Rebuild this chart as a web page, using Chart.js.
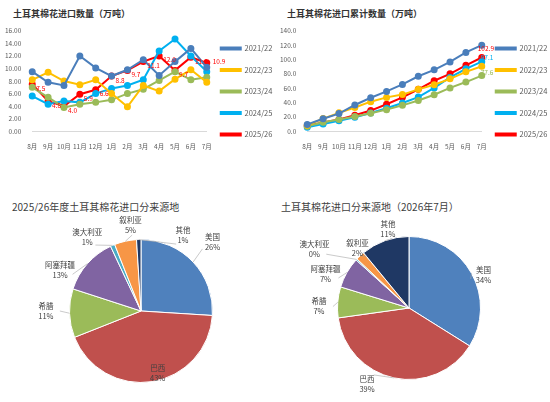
<!DOCTYPE html>
<html><head><meta charset="utf-8">
<script src="https://cdn.jsdelivr.net/npm/chart.js@4"></script>
<style>
body{margin:0;background:#fff;width:550px;height:402px;position:relative;overflow:hidden;font-family:"Noto Sans CJK SC",sans-serif}
.c{position:absolute}
.t{position:absolute;font-size:9px;color:#333;white-space:nowrap}
</style></head><body>
<div class="t" style="left:13px;top:7px;font-weight:bold">土耳其棉花进口数量（万吨）</div>
<div class="t" style="left:287px;top:7px;font-weight:bold">土耳其棉花进口累计数量（万吨）</div>
<div class="t" style="left:12px;top:199px;font-size:10px;color:#404040">2025/26年度土耳其棉花进口分来源地</div>
<div class="t" style="left:281px;top:199px;font-size:10px;color:#404040">土耳其棉花进口分来源地（2026年7月）</div>
<div class="c" style="left:0;top:24px;width:275px;height:131px"><canvas id="c1"></canvas></div>
<div class="c" style="left:275px;top:24px;width:275px;height:131px"><canvas id="c2"></canvas></div>
<div class="c" style="left:0;top:195px;width:275px;height:207px"><canvas id="c3"></canvas></div>
<div class="c" style="left:275px;top:195px;width:275px;height:207px"><canvas id="c4"></canvas></div>
<script>
const months=["8月","9月","10月","11月","12月","1月","2月","3月","4月","5月","6月","7月"];
const seasons=["2021/22","2022/23","2023/24","2024/25","2025/26"];
const colors=["#4a7ebb","#ffc000","#9bbb59","#00b0f0","#ff0000"];
const monthly=[
[9.5,7.8,7.3,12.0,10.1,8.8,9.8,11.4,8.9,11.1,13.2,10.2],
[8.2,9.4,8.0,7.4,8.2,6.0,3.9,7.3,6.4,8.3,9.8,7.8],
[7.0,5.4,3.8,4.3,4.6,5.0,6.0,6.7,8.1,9.5,8.2,8.6],
[5.6,4.3,4.8,4.6,6.0,6.8,7.3,8.2,12.8,14.7,12.0,9.5],
[7.5,4.8,4.0,5.9,6.6,8.8,9.7,11.1,12.0,9.7,11.8,10.9]];
const cumulative=[
[9.5,17.3,24.6,36.6,46.7,55.5,65.3,76.7,85.6,96.7,109.9,120.1],
[8.2,17.6,25.6,33.0,41.2,47.2,51.1,58.4,64.8,73.1,82.9,90.7],
[7.0,12.4,16.2,20.5,25.1,30.1,36.1,42.8,50.9,60.4,68.6,77.6],
[5.6,9.9,14.7,19.3,25.3,32.1,39.4,47.6,60.4,75.1,87.1,97.1],
[7.5,12.3,16.3,22.2,28.8,37.6,47.3,58.4,70.4,80.1,91.9,102.9]];
const origins=["美国","巴西","希腊","阿塞拜疆","澳大利亚","叙利亚","其他"];
const pieColors=["#4f81bd","#c0504d","#9bbb59","#8064a2","#4bacc6","#f79646","#1f3864"];
const share2526=[26,43,11,13,1,5,1];
const shareJul=[34,39,7,7,0.3,2,11];
const shareJulLabels=["34%","39%","7%","7%","0%","2%","11%"];
// label placement (degrees clockwise from top, distance as fraction of radius)
const lblAng1=[46,165,270,297,324,353,29], lblDist1=[1.39,0.9,1.33,1.27,1.28,1.21,1.21];
const lblAng2=[66,209,271,292,302,319,345], lblDist2=[1.14,1.21,1.26,1.26,1.56,1.1,1.14];

Chart.defaults.font.family='"Noto Sans CJK SC",sans-serif';
Chart.defaults.color='#595959';
Chart.defaults.animation=false;
Chart.defaults.responsive=true;
Chart.defaults.maintainAspectRatio=false;

function lineCfg(data,dec,max,step,labelFn){
 return {type:'line',
 data:{labels:months,datasets:seasons.map((s,i)=>({label:s,data:data[i],borderColor:colors[i],backgroundColor:colors[i],borderWidth:2,pointRadius:2.5,pointStyle:'circle',tension:0}))},
 options:{layout:{padding:{left:2,right:0,top:6,bottom:2}},
  plugins:{legend:{position:'right',labels:{boxWidth:20,boxHeight:2,font:{size:7.5},padding:14,color:'#595959'}},tooltip:{enabled:false}},
  scales:{x:{grid:{display:false},border:{color:'#d9d9d9'},ticks:{font:{size:6.5},maxRotation:0,autoSkip:false}},
   y:{min:0,max:max,ticks:{stepSize:step,font:{size:6.5},callback:v=>v.toFixed(dec)},grid:{display:false},border:{display:false}}}},
 plugins:[{afterDatasetsDraw(ch){labelFn(ch);}}]};
}
function drawLbl(ch,ds,idx,text,dx,dy,col){
 const p=ch.getDatasetMeta(ds).data[idx];const c=ch.ctx;
 c.save();c.font='6.5px "Noto Sans CJK SC"';c.fillStyle=col;c.textAlign='left';c.textBaseline='middle';
 c.fillText(text,p.x+dx,p.y+dy);c.restore();
}
new Chart(c1,lineCfg(monthly,2,16,2,ch=>{
 monthly[4].forEach((v,i)=>drawLbl(ch,4,i,v.toFixed(1),i==11?6:4,i==11?-1:4,'#ff0000'));
}));
new Chart(c2,lineCfg(cumulative,1,140,20,ch=>{
 drawLbl(ch,4,11,'102.9',-4,-9,'#ff0000');
 drawLbl(ch,3,11,'97.1',-1,-4,'#00b0f0');
 drawLbl(ch,2,11,'77.6',-1,-3,'#9bbb59');
}));

function pieCfg(vals,lbls,angs,dists,pad){
 return {type:'pie',data:{labels:origins,datasets:[{data:vals,backgroundColor:pieColors,borderColor:'#fff',borderWidth:1}]},
 options:{layout:{padding:pad},plugins:{legend:{display:false},tooltip:{enabled:false}}},
 plugins:[{afterDatasetsDraw(ch){
  const c=ch.ctx;const meta=ch.getDatasetMeta(0);
  c.save();c.font='7.5px "Noto Sans CJK SC"';c.fillStyle='#404040';c.textAlign='center';c.textBaseline='middle';
  c.strokeStyle='#a6a6a6';c.lineWidth=0.6;
  meta.data.forEach((a,i)=>{
   const r=a.outerRadius;const ang=(a.startAngle+a.endAngle)/2;
   const la=(angs[i]-90)*Math.PI/180, d=dists[i]*r;
   const tx=a.x+Math.cos(la)*d, ty=a.y+Math.sin(la)*d;
   if(dists[i]>1){
    const x0=a.x+Math.cos(ang)*r,y0=a.y+Math.sin(ang)*r;
    const x1=a.x+Math.cos(la)*(d-14),y1=a.y+Math.sin(la)*(d-10);
    c.beginPath();c.moveTo(x0,y0);c.lineTo(x1,y1);c.stroke();
   }
   c.fillText(origins[i],tx,ty-5);c.fillText(lbls[i],tx,ty+5);
  });c.restore();}}]};
}
new Chart(c3,pieCfg(share2526,share2526.map(v=>v+'%'),lblAng1,lblDist1,{left:69,right:62,top:44,bottom:19}));
new Chart(c4,pieCfg(shareJul,shareJulLabels,lblAng2,lblDist2,{left:62,right:69,top:41,bottom:22}));
</script></body></html>
